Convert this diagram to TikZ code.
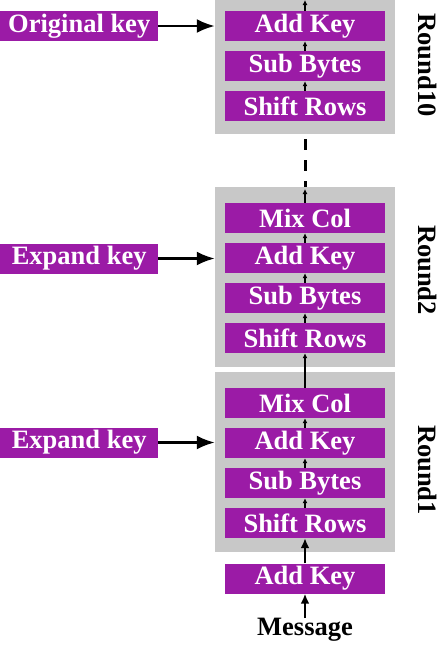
\documentclass[tikz,border=0pt]{standalone}
\usepackage{fontspec}
\setmainfont{Liberation Serif}
\usetikzlibrary{arrows.meta}
\definecolor{aespurple}{HTML}{9B1BA6}
\definecolor{aesgray}{HTML}{C8C8C8}
\begin{document}
\begin{tikzpicture}[x=1pt,y=-1pt,
  txt/.style={font=\fontsize{26.5}{26.5}\selectfont\bfseries},
  op/.style={txt,fill=aespurple,text=white,minimum width=160pt,minimum height=30pt,inner sep=0pt},
  keybox/.style={txt,fill=aespurple,text=white,minimum height=30pt,inner xsep=4pt,inner ysep=0pt,anchor=west},
  roundbox/.style={fill=aesgray,minimum width=180pt,inner sep=0pt},
  roundlbl/.style={txt,rotate=-90},
  small/.style={-{Latex[length=5pt,width=5pt]},line width=2pt},
  big/.style={-{Latex[length=18pt,width=14pt]},line width=2.5pt}]
\useasboundingbox (0,0) rectangle (440,649);
% gray round boxes
\node[roundbox,minimum height=134pt] (g10) at (305,67) {};
\node[roundbox,minimum height=180pt] (g2) at (305,277) {};
\node[roundbox,minimum height=180pt] (g1) at (305,462) {};
% Round 10
\node[op] (ak10) at (305,26) {Add Key};
\node[op] (sb10) at (305,66) {Sub Bytes};
\node[op] (sr10) at (305,106) {Shift Rows};
% Round 2
\node[op] (mc2) at (305,218) {Mix Col};
\node[op] (ak2) at (305,258) {Add Key};
\node[op] (sb2) at (305,298) {Sub Bytes};
\node[op] (sr2) at (305,338) {Shift Rows};
% Round 1
\node[op] (mc1) at (305,403) {Mix Col};
\node[op] (ak1) at (305,443) {Add Key};
\node[op] (sb1) at (305,483) {Sub Bytes};
\node[op] (sr1) at (305,523) {Shift Rows};
% initial
\node[op] (ak0) at (305,578.5) {Add Key};
\node[txt,inner sep=0pt] (msg) at (305,630) {Message};
% keys
\node[keybox,minimum width=158pt] (ok) at (0,26) {Original key};
\node[keybox,minimum width=158pt] (ek2) at (0,258.5) {Expand key};
\node[keybox,minimum width=158pt] (ek1) at (0,442.5) {Expand key};
% labels
\node[roundlbl] (r10) at (428,65) {Round10};
\node[roundlbl] (r2) at (428,270) {Round2};
\node[roundlbl] (r1) at (428,470) {Round1};
% key arrows
\draw[big] (ok.east) -- (ok.east -| g10.west);
\draw[big] (ek2.east) -- (ek2.east -| g2.west);
\draw[big] (ek1.east) -- (ek1.east -| g1.west);
% internal arrows
\coordinate (top10) at (305,0);
\draw[small] (ak10.north) -- (top10);
\draw[small] (sb10.north) -- (ak10.south);
\draw[small] (sr10.north) -- (sb10.south);
\draw[line width=3pt,dash pattern=on 11pt off 10pt] (305,139) -- (g2.north);
\draw[small] (mc2.north) -- (305,189);
\draw[small] (ak2.north) -- (mc2.south);
\draw[small] (sb2.north) -- (ak2.south);
\draw[small] (sr2.north) -- (sb2.south);
\draw[-{Latex[length=5pt,width=5pt]},line width=2.5pt] (mc1.north) -- (sr2.south);
\draw[small] (ak1.north) -- (mc1.south);
\draw[small] (sb1.north) -- (ak1.south);
\draw[small] (sr1.north) -- (sb1.south);
\draw[-{Latex[length=10pt,width=9pt]},line width=2pt] (ak0.north) -- (sr1.south);
\draw[-{Latex[length=10pt,width=9pt]},line width=2pt] (msg.north) -- (ak0.south);
\end{tikzpicture}
\end{document}
